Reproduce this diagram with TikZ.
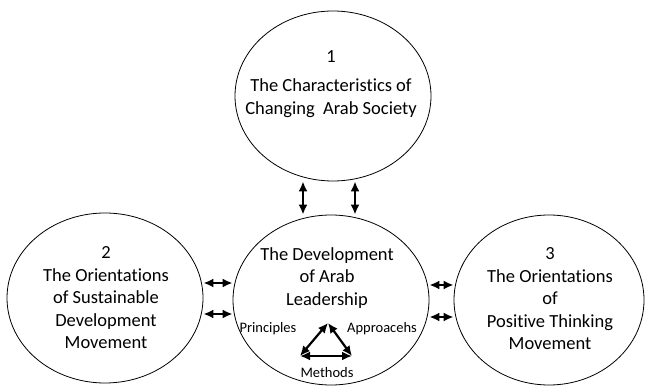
\documentclass[tikz,border=0pt]{standalone}
\usepackage{fontspec}
\setmainfont[Ligatures=NoCommon]{Carlito}
\usepackage{tikz}
\usetikzlibrary{calc}
\usetikzlibrary{shapes.geometric}
\usetikzlibrary{arrows.meta}
\tikzset{
   circ/.style={ellipse, draw=black, line width=0.8pt,
      minimum width=196pt, minimum height=170pt, inner sep=0pt},
   txt/.style={align=center, font=\fontsize{18.5}{22.5}\selectfont},
   small/.style={font=\fontsize{14.5}{16}\selectfont},
   link/.style={{Latex[length=10pt,width=9pt]}-{Latex[length=10pt,width=9pt]},
      line width=2.8pt, draw=black},
   tri/.style={{Latex[length=10pt,width=9pt]}-{Latex[length=10pt,width=9pt]},
      line width=2.2pt, draw=black},
   }

\begin{document}
\begin{tikzpicture}[x=1pt,y=-1pt]
            \useasboundingbox (0,0) rectangle (645,387);
            \node[circ](soc) at (333,96) {};
            \node[circ](lead) at (331,300) {};
            \node[circ](sust) at (105,298) {};
            \node[circ, minimum width=190pt](pos) at (549,300) {};
            \node[txt](socT) at (331,84) {1\\[7pt]The Characteristics of\\Changing\ \ Arab Society};
            \node[txt](leadT) at (327,278) {The Development\\of Arab\\Leadership};
            \node[txt](sustT) at (106,298) {2\\The Orientations\\of Sustainable\\Development\\Movement};
            \node[txt](posT) at (550,299) {3\\The Orientations\\of\\Positive Thinking\\Movement};
            \draw[link]([xshift=-30]soc.south) to ([xshift=-30]soc.south |- lead.north);
            \draw[link]([xshift=22]soc.south) to ([xshift=22]soc.south |- lead.north);
            \draw[link]([yshift=-16]sust.east) to ([yshift=-16]sust.east -| lead.west);
            \draw[link]([yshift=15]sust.east) to ([yshift=15]sust.east -| lead.west);
            \draw[link]([yshift=-17]lead.east) to ([yshift=-17]lead.east -| pos.west);
            \draw[link]([yshift=15]lead.east) to ([yshift=15]lead.east -| pos.west);
            \coordinate (pr) at (328,323);
            \coordinate (me) at (300,356);
            \coordinate (ap) at (352,356);
            \draw[tri](me) to (pr);
            \draw[tri](pr) to (ap);
            \draw[tri](me) to (ap);
            \node[small](prT) at (268,329) {Principles};
            \node[small](apT) at (382,329) {Approacehs};
            \node[small](meT) at (327,373) {Methods};
        \end{tikzpicture}
\end{document}
